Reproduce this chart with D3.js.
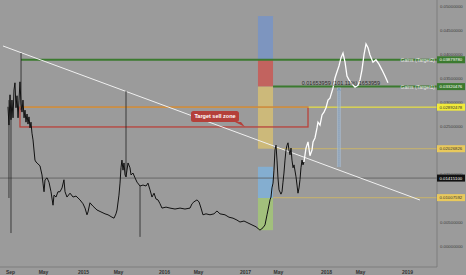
<html>
<head>
  <style>
    body { margin: 0; background: #9b9b9b; font-family: "Liberation Sans", Arial, sans-serif; }
    svg { display: block; }
  </style>
</head>
<body>
  <svg id="chart"></svg>
  <script src="https://cdn.jsdelivr.net/npm/d3@7"></script>
  <script>
    var W = 466, H = 275;
    var plotRight = 437, plotBottom = 267;

    // price history (decimal year, price)
    var priceYears = [2014.074, 2014.086, 2014.099, 2014.111, 2014.123, 2014.136, 2014.148, 2014.160, 2014.173, 2014.185,
      2014.198, 2014.210, 2014.222, 2014.235, 2014.247, 2014.259, 2014.272, 2014.284, 2014.296, 2014.309,
      2014.321, 2014.333, 2014.346, 2014.358, 2014.370, 2014.383, 2014.395, 2014.407, 2014.420, 2014.444,
      2014.469, 2014.494, 2014.506, 2014.519, 2014.531, 2014.556, 2014.580, 2014.605, 2014.630, 2014.642,
      2014.667, 2014.691, 2014.716, 2014.741, 2014.765, 2014.778, 2014.802, 2014.840, 2014.877, 2014.914,
      2014.963, 2015.000, 2015.025, 2015.049, 2015.062, 2015.086, 2015.123, 2015.173, 2015.222, 2015.272,
      2015.309, 2015.358, 2015.383, 2015.407, 2015.420, 2015.444, 2015.457, 2015.469, 2015.481, 2015.494,
      2015.506, 2015.519, 2015.531, 2015.543, 2015.556, 2015.580, 2015.593, 2015.617, 2015.642, 2015.667,
      2015.704, 2015.741, 2015.778, 2015.802, 2015.827, 2015.852, 2015.877, 2015.901, 2015.926, 2015.951,
      2015.975, 2016.025, 2016.074, 2016.136, 2016.198, 2016.259, 2016.321, 2016.346, 2016.370, 2016.407,
      2016.432, 2016.457, 2016.481, 2016.519, 2016.568, 2016.617, 2016.654, 2016.691, 2016.753, 2016.802,
      2016.852, 2016.901, 2016.938, 2016.988, 2017.037, 2017.086, 2017.136, 2017.185, 2017.222, 2017.247,
      2017.272, 2017.284, 2017.309, 2017.321, 2017.333, 2017.346, 2017.358, 2017.370, 2017.383, 2017.395,
      2017.407, 2017.420, 2017.444, 2017.457, 2017.469, 2017.481, 2017.494, 2017.506, 2017.519, 2017.531,
      2017.543, 2017.556, 2017.568, 2017.580, 2017.593, 2017.605, 2017.630, 2017.642, 2017.654, 2017.667,
      2017.679, 2017.691, 2017.704, 2017.716, 2017.728];
    var priceValues = [0.0290, 0.0252, 0.0315, 0.0263, 0.0304, 0.0267, 0.0325, 0.0340, 0.0288, 0.0313,
      0.0267, 0.0304, 0.0342, 0.0296, 0.0279, 0.0304, 0.0267, 0.0283, 0.0258, 0.0275,
      0.0254, 0.0269, 0.0246, 0.0258, 0.0235, 0.0221, 0.0200, 0.0179, 0.0175, 0.0171,
      0.0167, 0.0148, 0.0131, 0.0113, 0.0138, 0.0142, 0.0133, 0.0113, 0.0085, 0.0106,
      0.0102, 0.0113, 0.0113, 0.0121, 0.0138, 0.0113, 0.0102, 0.0110, 0.0102, 0.0104,
      0.0096, 0.0088, 0.0079, 0.0065, 0.0071, 0.0090, 0.0083, 0.0075, 0.0071, 0.0067,
      0.0065, 0.0060, 0.0058, 0.0067, 0.0075, 0.0106, 0.0131, 0.0163, 0.0179, 0.0158,
      0.0173, 0.0148, 0.0144, 0.0158, 0.0173, 0.0163, 0.0148, 0.0152, 0.0142, 0.0133,
      0.0125, 0.0127, 0.0125, 0.0131, 0.0117, 0.0102, 0.0110, 0.0098, 0.0096, 0.0088,
      0.0079, 0.0081, 0.0079, 0.0077, 0.0079, 0.0077, 0.0079, 0.0088, 0.0092, 0.0096,
      0.0092, 0.0079, 0.0065, 0.0067, 0.0065, 0.0067, 0.0073, 0.0067, 0.0065, 0.0060,
      0.0058, 0.0054, 0.0050, 0.0052, 0.0048, 0.0044, 0.0040, 0.0033, 0.0038, 0.0044,
      0.0065, 0.0075, 0.0096, 0.0102, 0.0121, 0.0131, 0.0158, 0.0200, 0.0210, 0.0179,
      0.0142, 0.0117, 0.0108, 0.0113, 0.0133, 0.0152, 0.0179, 0.0200, 0.0210, 0.0215,
      0.0200, 0.0190, 0.0204, 0.0179, 0.0163, 0.0169, 0.0144, 0.0127, 0.0110, 0.0121,
      0.0138, 0.0163, 0.0179, 0.0169, 0.0175];

    // long single-bar wicks: year, high, low
    var wickYears = [2014.086, 2014.111, 2014.235, 2015.531, 2015.704];
    var wickHighs = [0.0304, 0.0283, 0.0402, 0.0323, 0.0125];
    var wickLows = [0.0100, 0.0027, 0.0283, 0.0144, 0.0019];

    // projected path drawn by hand (white)
    var projYears = [2017.728, 2017.753, 2017.778, 2017.802, 2017.827, 2017.840, 2017.864, 2017.889, 2017.901, 2017.926,
      2017.951, 2017.975, 2018.000, 2018.025, 2018.049, 2018.086, 2018.111, 2018.136, 2018.160, 2018.185,
      2018.210, 2018.235, 2018.259, 2018.284, 2018.321, 2018.358, 2018.395, 2018.420, 2018.444, 2018.469,
      2018.494, 2018.519, 2018.543, 2018.580, 2018.617, 2018.654, 2018.691, 2018.728, 2018.765];
    var projValues = [0.0175, 0.0204, 0.0217, 0.0188, 0.0200, 0.0217, 0.0225, 0.0246, 0.0258, 0.0252,
      0.0273, 0.0279, 0.0288, 0.0304, 0.0308, 0.0329, 0.0350, 0.0363, 0.0375, 0.0392,
      0.0402, 0.0383, 0.0354, 0.0346, 0.0338, 0.0331, 0.0335, 0.0346, 0.0367, 0.0398,
      0.0421, 0.0413, 0.0398, 0.0383, 0.0388, 0.0379, 0.0367, 0.0354, 0.0340];

    // trend line
    var trendYears = [2014.012, 2019.160];
    var trendValues = [0.04167, 0.00958];

    // horizontal levels
    var levelValues = [0.03879780, 0.03320476, 0.02892478, 0.02026826, 0.01415100, 0.01007592];
    var levelStart = [2014.235, 2017.346, 2014.222, 2017.346, 2013.975, 2017.346];
    var levelKind = ["green", "green", "yellow", "tan", "price", "tan"];
    var levelNotes = ["Gains (Target2)", "Gains (Target1)", "", "", "", ""];

    // vertical colour column (zone boundaries)
    var zoneYears = [2017.160, 2017.346];
    var zoneTops = [0.0479, 0.03879780, 0.03320476, 0.0165, 0.0100];
    var zoneBottoms = [0.03879780, 0.03320476, 0.02026826, 0.0100, 0.0033];
    var zoneKind = ["blue", "red", "yellow", "lightblue", "green"];

    // sell zone box
    var sellYears = [2014.222, 2017.778];
    var sellValues = [0.02892478, 0.0248];

    // measurement
    var measureYear = 2018.160;
    var measureFrom = 0.01645, measureTo = 0.03300;
    var measureText = "0.01653959 (101.11%) 1653959";

    var xTickYears = [2014.099, 2014.506, 2015, 2015.432, 2016, 2016.420, 2017, 2017.407, 2018, 2018.420, 2019];
    var xTickLabels = ["Sep", "May", "2015", "May", "2016", "May", "2017", "May", "2018", "May", "2019"];
    var yTickValues = [0, 0.005, 0.015, 0.025, 0.03, 0.035, 0.04, 0.045, 0.05];

    var colors = {
      green: "#3b7a2f", yellow: "#e4dd48", tan: "#c6b26e", price: "#5a5a5a",
      blue: "#7d95bf", red: "#c2635f", lightblue: "#84aed0", zyellow: "#ccb97a", zgreen: "#a2c07c"
    };

    var svg = d3.select("#chart").attr("width", W).attr("height", H);

    var x = d3.scaleLinear().domain([2013.9753, 2019.3704]).range([0, plotRight]);
    var y = d3.scaleLinear().domain([0, 0.05125]).range([246, 0]);

    // colour column
    svg.append("g").selectAll("rect")
      .data(zoneKind)
      .join("rect")
      .attr("x", x(zoneYears[0]))
      .attr("width", x(zoneYears[1]) - x(zoneYears[0]))
      .attr("y", (d, i) => y(zoneTops[i]))
      .attr("height", (d, i) => y(zoneBottoms[i]) - y(zoneTops[i]))
      .attr("fill", d => d == "yellow" ? colors.zyellow : d == "green" ? colors.zgreen : colors[d]);

    // level lines
    var levels = svg.append("g");
    levelValues.forEach(function (v, i) {
      var k = levelKind[i];
      levels.append("line")
        .attr("x1", x(levelStart[i])).attr("x2", plotRight)
        .attr("y1", y(v)).attr("y2", y(v))
        .attr("stroke", colors[k])
        .attr("stroke-width", k == "green" ? 2 : k == "price" ? 0.8 : k == "tan" ? 1.3 : 1)
        .attr("opacity", k == "tan" ? 0.85 : 1);
    });

    // sell zone box
    svg.append("rect")
      .attr("x", x(sellYears[0])).attr("y", y(sellValues[0]))
      .attr("width", x(sellYears[1]) - x(sellYears[0]))
      .attr("height", y(sellValues[1]) - y(sellValues[0]))
      .attr("fill", "none").attr("stroke", "#b9423b").attr("stroke-width", 1.3);
    svg.append("line")
      .attr("x1", x(sellYears[0])).attr("x2", plotRight)
      .attr("y1", y(sellValues[0])).attr("y2", y(sellValues[0]))
      .attr("stroke", colors.yellow).attr("stroke-width", 0.8).attr("opacity", 0.8);

    // trend line
    svg.append("line")
      .attr("x1", x(trendYears[0])).attr("y1", y(trendValues[0]))
      .attr("x2", x(trendYears[1])).attr("y2", y(trendValues[1]))
      .attr("stroke", "#f0f0f0").attr("stroke-width", 1);

    // price
    var line = d3.line().x(d => x(d[0])).y(d => y(d[1]));
    svg.append("g").selectAll("line")
      .data(wickYears)
      .join("line")
      .attr("x1", d => x(d)).attr("x2", d => x(d))
      .attr("y1", (d, i) => y(wickHighs[i])).attr("y2", (d, i) => y(wickLows[i]))
      .attr("stroke", "#222").attr("stroke-width", 0.8);
    svg.append("path")
      .datum(priceYears.map((d, i) => [d, priceValues[i]]))
      .attr("d", line)
      .attr("fill", "none").attr("stroke", "#111").attr("stroke-width", 1);

    // projection
    svg.append("path")
      .datum(projYears.map((d, i) => [d, projValues[i]]))
      .attr("d", line)
      .attr("fill", "none").attr("stroke", "#ffffff").attr("stroke-width", 1.3);

    // measurement tool
    var mx = x(measureYear);
    svg.append("rect")
      .attr("x", mx - 2).attr("y", y(measureTo))
      .attr("width", 4).attr("height", y(measureFrom) - y(measureTo))
      .attr("fill", "#a9c3dc").attr("opacity", 0.55);
    svg.append("line")
      .attr("x1", mx).attr("x2", mx)
      .attr("y1", y(measureTo) + 2).attr("y2", y(measureFrom))
      .attr("stroke", "#5f86b3").attr("stroke-width", 0.8).attr("stroke-dasharray", "1,1");
    svg.append("path")
      .attr("d", `M${mx - 1.5},${y(measureTo) + 3}L${mx},${y(measureTo) + 0.5}L${mx + 1.5},${y(measureTo) + 3}`)
      .attr("fill", "none").attr("stroke", "#5f86b3").attr("stroke-width", 0.6);
    svg.append("text")
      .attr("x", x(2017.7)).attr("y", y(measureTo) - 3)
      .attr("font-size", "5.5px").attr("fill", "#2b2b2b")
      .text(measureText);

    // target notes
    levelNotes.forEach(function (t, i) {
      if (!t) return;
      svg.append("text")
        .attr("x", plotRight - 2).attr("y", y(levelValues[i]) + 2)
        .attr("text-anchor", "end").attr("font-size", "5px").attr("fill", "#e8e8e8")
        .text(t);
    });

    // callout
    var cx = x(2017.0), cy = y(sellValues[1]);
    var callout = svg.append("g").attr("transform", `translate(${cx},${cy})`);
    callout.append("path")
      .attr("d", "M-10,-5L-4,-5L0,0Z").attr("fill", "#b4403a");
    callout.append("rect")
      .attr("x", -54).attr("y", -16).attr("width", 48).attr("height", 11).attr("rx", 2.5)
      .attr("fill", "#b4403a");
    callout.append("text")
      .attr("x", -30).attr("y", -8.7).attr("text-anchor", "middle")
      .attr("font-size", "5.5px").attr("font-weight", "bold").attr("fill", "#ffffff")
      .text("Target sell zone");

    // axes frame
    svg.append("line").attr("x1", plotRight).attr("x2", plotRight).attr("y1", 0).attr("y2", plotBottom)
      .attr("stroke", "#777").attr("stroke-width", 0.8);
    svg.append("line").attr("x1", 0).attr("x2", plotRight).attr("y1", plotBottom).attr("y2", plotBottom)
      .attr("stroke", "#777").attr("stroke-width", 0.8);

    var yAxis = d3.axisRight(y).tickValues(yTickValues).tickFormat(d3.format(".8f")).tickSize(0).tickPadding(3);
    svg.append("g").attr("transform", `translate(${plotRight},0)`).call(yAxis)
      .call(g => g.select(".domain").remove())
      .call(g => g.selectAll("text").attr("font-size", "4.3px").attr("fill", "#3c3c3c")
        .attr("font-family", "Liberation Sans, Arial, sans-serif"));

    var xAxis = d3.axisBottom(x).tickValues(xTickYears).tickFormat((d, i) => xTickLabels[i]).tickSize(0).tickPadding(3);
    svg.append("g").attr("transform", `translate(0,${plotBottom})`).call(xAxis)
      .call(g => g.select(".domain").remove())
      .call(g => g.selectAll("text").attr("font-size", "5px").attr("font-weight", "bold").attr("fill", "#333")
        .attr("font-family", "Liberation Sans, Arial, sans-serif"));

    // price badges on the axis
    var badgeFill = { green: "#3b7a2f", yellow: "#f1ea3a", tan: "#e9c95c", price: "#111" };
    var badgeText = { green: "#fff", yellow: "#333", tan: "#333", price: "#fff" };
    var badges = svg.append("g").selectAll("g")
      .data(levelValues)
      .join("g")
      .attr("transform", d => `translate(${plotRight},${y(d)})`);
    badges.append("rect")
      .attr("x", 0).attr("y", -3.5).attr("width", 28).attr("height", 7)
      .attr("fill", (d, i) => badgeFill[levelKind[i]]);
    badges.append("text")
      .attr("x", 2.5).attr("y", 1.6)
      .attr("font-size", "4.3px")
      .attr("fill", (d, i) => badgeText[levelKind[i]])
      .text(d => d3.format(".8f")(d));
  </script>
</body>
</html>
